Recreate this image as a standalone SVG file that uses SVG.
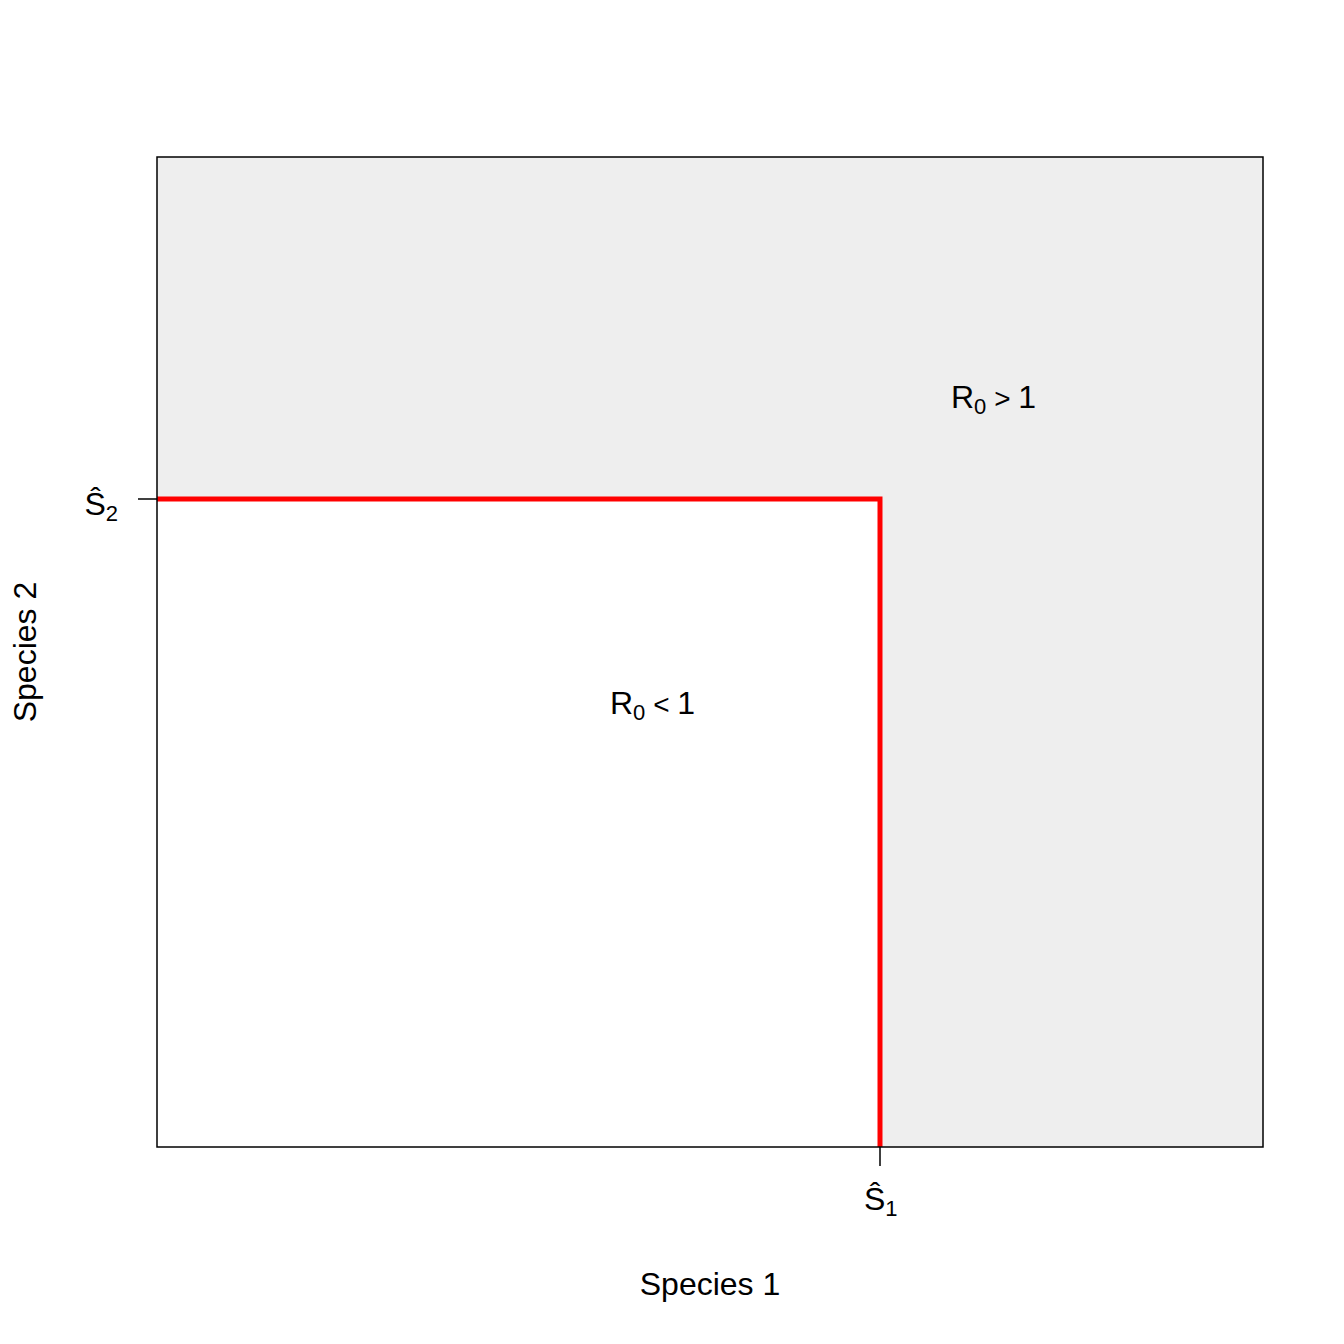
<svg xmlns="http://www.w3.org/2000/svg" width="1344" height="1344" viewBox="0 0 1344 1344">
<style>
text{font-family:"Liberation Sans",Arial,sans-serif;fill:#000;font-size:32px}
.sub{font-size:22px}
.ax{stroke:#000;stroke-width:1.5;fill:none}
.red{stroke:#FF0000;stroke-width:5;fill:none}
</style>
<rect x="0" y="0" width="1344" height="1344" fill="#fff"/>
<g id="plot-region">
<rect x="157" y="157" width="1106" height="990" fill="#EEEEEE"/>
<rect x="157" y="499" width="723" height="648" fill="#FFFFFF"/>
</g>
<g id="connectors">
<polyline class="red" points="157,499 880,499 880,1147"/>
<rect class="ax" x="157" y="157" width="1106" height="990"/>
<line class="ax" x1="138" y1="499" x2="157" y2="499"/>
<line class="ax" x1="880" y1="1147" x2="880" y2="1166"/>
</g>
<g id="label-s2">
<text x="118" y="515" text-anchor="end">Ŝ<tspan class="sub" dy="6">2</tspan></text>
</g>
<g id="label-s1">
<text x="864" y="1210">Ŝ<tspan class="sub" dy="6">1</tspan></text>
</g>
<g id="label-r0-gt">
<text x="951" y="408">R<tspan class="sub" dy="6">0</tspan><tspan dy="-6" font-size="28"> &gt; </tspan>1</text>
</g>
<g id="label-r0-lt">
<text x="610" y="714">R<tspan class="sub" dy="6">0</tspan><tspan dy="-6" font-size="28"> &lt; </tspan>1</text>
</g>
<g id="axis-titles">
<text x="710" y="1295" text-anchor="middle">Species 1</text>
<text transform="translate(36,652) rotate(-90)" text-anchor="middle">Species 2</text>
</g>
</svg>
